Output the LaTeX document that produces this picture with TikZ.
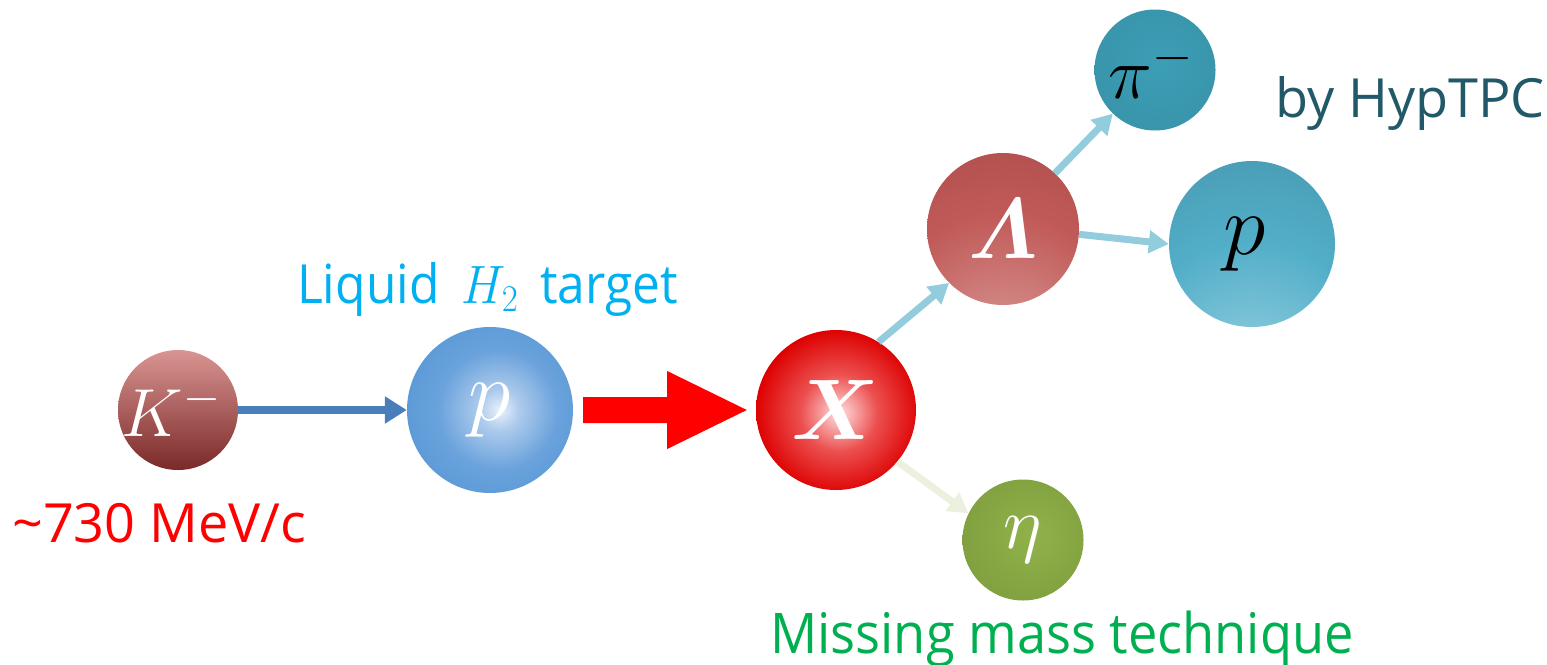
\RequirePackage{fix-cm}
\documentclass[tikz,border=0pt]{standalone}
\usepackage{amsmath}
\usepackage{fontspec}
\setmainfont{Open Sans}
\usetikzlibrary{arrows.meta,calc}

\definecolor{kTop}{HTML}{D99593}
\definecolor{kMid}{HTML}{C0504D}
\definecolor{kBot}{HTML}{7A2927}
\definecolor{pbA}{HTML}{EAF2FB}
\definecolor{pbB}{HTML}{ADCBEC}
\definecolor{pbD}{HTML}{6AA2DC}
\definecolor{pbC}{HTML}{3A89CD}
\definecolor{xA}{HTML}{FFE0E0}
\definecolor{xB}{HTML}{EC5050}
\definecolor{xC}{HTML}{DD0000}
\definecolor{xD}{HTML}{B40000}
\definecolor{lA}{HTML}{DDA4A3}
\definecolor{lB}{HTML}{C05A58}
\definecolor{lC}{HTML}{943F3D}
\definecolor{piA}{HTML}{3C9EB5}
\definecolor{piB}{HTML}{3894AA}
\definecolor{piC}{HTML}{2F7A8E}
\definecolor{ptA}{HTML}{A3D6E4}
\definecolor{ptB}{HTML}{52AEC8}
\definecolor{ptC}{HTML}{3A7F94}
\definecolor{etA}{HTML}{90B24A}
\definecolor{etB}{HTML}{809F3F}
\definecolor{etC}{HTML}{6B8A34}
\definecolor{arrBlue}{HTML}{4A7EBB}
\definecolor{arrLight}{HTML}{93CDDD}
\definecolor{arrPale}{HTML}{EBF1DE}
\definecolor{txtCyan}{HTML}{00B0F0}
\definecolor{txtTeal}{HTML}{215968}
\definecolor{txtGreen}{HTML}{00B050}

\pgfdeclareradialshading{pshade}{\pgfpoint{3bp}{0bp}}{color(0bp)=(pbA); color(6bp)=(pbB); color(18bp)=(pbD); color(50bp)=(pbC); color(80bp)=(pbC)}
\pgfdeclareradialshading{xshade}{\pgfpoint{1bp}{-1bp}}{color(0bp)=(xA); color(12bp)=(xB); color(26bp)=(xC); color(50bp)=(xD); color(80bp)=(xD)}
\pgfdeclareradialshading{lshade}{\pgfpoint{0bp}{-48bp}}{color(0bp)=(lA); color(38bp)=(lB); color(88bp)=(lC); color(120bp)=(lC)}
\pgfdeclareradialshading{pishade}{\pgfpoint{2bp}{3bp}}{color(0bp)=(piA); color(30bp)=(piB); color(50bp)=(piC); color(80bp)=(piC)}
\pgfdeclareradialshading{ptshade}{\pgfpoint{0bp}{-48bp}}{color(0bp)=(ptA); color(35bp)=(ptB); color(88bp)=(ptC); color(120bp)=(ptC)}
\pgfdeclareradialshading{etashade}{\pgfpoint{4bp}{2bp}}{color(0bp)=(etA); color(30bp)=(etB); color(50bp)=(etC); color(80bp)=(etC)}

\tikzset{
  ball/.style={circle, inner sep=0pt, minimum size=#1, text=white},
  sym/.style={font=\fontsize{#1}{#1}\selectfont},
  label/.style={inner sep=0pt, anchor=base west, font=\fontsize{#1}{#1}\selectfont},
  thickarr/.style={draw=arrBlue, line width=8pt, -{Triangle[length=22pt,width=26pt]}},
  lightarr/.style={draw=arrLight, line width=7pt, -{Triangle[length=20pt,width=22pt]}},
  palearr/.style={draw=arrPale, line width=7pt, -{Triangle[length=20pt,width=22pt]}}
}

\begin{document}
\begin{tikzpicture}[x=1pt,y=-1pt]
\useasboundingbox (0,0) rectangle (1547,664);

% particles
\node[ball=120pt, top color=kTop, middle color=kMid, bottom color=kBot, sym=68] (K) at (178,410) {\hspace*{-14pt}$K^{-}$};
\node[ball=166pt, shading=pshade, sym=86] (p) at (490,410) {$p$};
\node[ball=160pt, shading=xshade, sym=86] (X) at (836,410) {$\boldsymbol{X}$};
\node[ball=152pt, shading=lshade, sym=86] (L) at (1003,229) {$\boldsymbol{\varLambda}$};
\node[ball=121pt, shading=pishade, sym=74, text=black] (pi) at (1155,70) {\hspace*{-8pt}$\pi^{-}$};
\node[ball=166pt, shading=ptshade, sym=86, text=black] (pt) at (1252,244) {\hspace*{-14pt}$p$};
\node[ball=121pt, shading=etashade, sym=74] (eta) at (1023,540) {$\eta$};

% connectors
\draw[thickarr] (K.east) -- (p.west);
\coordinate (ra) at ($(p.east)+(10,0)$);
\coordinate (rt) at ($(X.west)+(-9,0)$);
\fill[red] ($(ra)+(0,-13)$) -- ($(ra)+(84,-13)$) -- ($(ra)+(84,-39)$) -- (rt)
  -- ($(ra)+(84,39)$) -- ($(ra)+(84,13)$) -- ($(ra)+(0,13)$) -- cycle;
\draw[lightarr] (X.58) -- (L.225);
\draw[lightarr] (L.47) -- (pi.226);
\draw[lightarr] (L.356) -- (pt.180);
\draw[palearr] (X.320) -- (eta.154);

% labels
\node[label=54, text=txtCyan] (liq) at (297,303) {\scalebox{0.92}[1]{Liquid\hspace{24pt}$H_2$\hspace{24pt}target}};
\node[label=54, text=red] (mom) at (12,542) {\textasciitilde730 MeV/c};
\node[label=54, text=txtTeal] (tpc) at (1275,117) {by HypTPC};
\node[label=56, text=txtGreen] (mm) at (770,653) {\scalebox{0.935}[1]{Missing mass technique}};
\end{tikzpicture}
\end{document}
